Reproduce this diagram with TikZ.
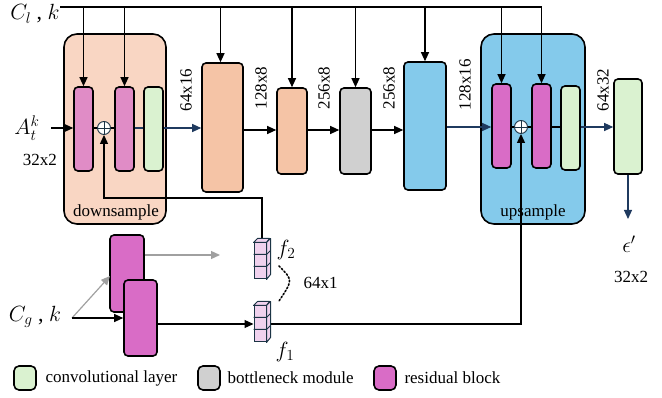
\documentclass[tikz,border=0pt]{standalone}
\usepackage{fix-cm}
\usepackage{fontspec}
\setmainfont{Liberation Serif}
\usetikzlibrary{arrows.meta}
\definecolor{peachbg}{HTML}{F9D6C3}
\definecolor{peach}{HTML}{F5C4A6}
\definecolor{resd}{HTML}{E08CC6}
\definecolor{resu}{HTML}{D96CC6}
\definecolor{convg}{HTML}{DAF2D0}
\definecolor{bneck}{HTML}{D0D0D0}
\definecolor{skyb}{HTML}{84CAEB}
\definecolor{navy}{HTML}{1F3A5F}
\definecolor{cubef}{HTML}{F0D2EE}
\definecolor{cubel}{HTML}{1C3445}
\definecolor{grayarr}{HTML}{A0A0A0}
\begin{document}
\begin{tikzpicture}[x=1pt,y=-1pt,
  font=\fontsize{17}{20}\selectfont,
  mathlab/.style={font=\fontsize{22}{24}\selectfont},
  blk/.style={draw=black,line width=1.6pt,rounded corners=4pt,inner sep=0pt},
  bigbox/.style={draw=black,line width=1.6pt,rounded corners=13pt,inner sep=0pt},
  arrK/.style={line width=1.2pt,-{Triangle[length=9pt,width=8pt]}},
  arrN/.style={line width=1.2pt,draw=navy,-{Triangle[length=9pt,width=8pt]},navy},
  lnK/.style={line width=1.2pt},
  lnN/.style={line width=1.2pt,draw=navy},
  arrG/.style={line width=1.2pt,draw=grayarr,-{Triangle[length=9pt,width=8pt]},grayarr},
  sumc/.style={circle,draw=cubel,fill=white,line width=0.9pt,minimum size=13pt,inner sep=0pt},
  vec/.style={draw=cubel,fill=cubef,line width=1pt,minimum width=12pt,minimum height=36pt,inner sep=0pt},
  dim/.style={rotate=90}
]
\useasboundingbox (0,0) rectangle (662,398);

% big boxes
\node[bigbox,fill=peachbg,minimum width=102pt,minimum height=190pt] (dbox) at (115,129) {};
\node[bigbox,fill=skyb,minimum width=104pt,minimum height=190pt] (ubox) at (533,129) {};
\node[anchor=base] (dlab) at (116,217) {downsample};
\node[anchor=base] (ulab) at (533,217) {upsample};

% downsample interior
\node[blk,fill=resd,minimum width=19pt,minimum height=84pt] (dr1) at (83.5,129) {};
\node[blk,fill=resd,minimum width=19pt,minimum height=84pt] (dr2) at (124.5,129) {};
\node[blk,fill=convg,minimum width=19pt,minimum height=84pt] (dg) at (153.5,129) {};
\node[sumc] (ds) at (104,128) {};
\draw[cubel,line width=0.9pt] (ds.north)--(ds.south) (ds.west)--(ds.east);

% middle blocks
\node[blk,fill=peach,minimum width=41pt,minimum height=129pt] (O1) at (222.5,127.5) {};
\node[blk,fill=peach,minimum width=30pt,minimum height=86pt] (O2) at (292,131) {};
\node[blk,fill=bneck,minimum width=31pt,minimum height=86pt] (G) at (355.5,131) {};
\node[blk,fill=skyb,minimum width=42pt,minimum height=128pt] (B) at (425,126) {};

% upsample interior
\node[blk,fill=resu,minimum width=19pt,minimum height=84pt] (ur1) at (501.5,126) {};
\node[blk,fill=resu,minimum width=19pt,minimum height=84pt] (ur2) at (541.5,126) {};
\node[blk,fill=convg,minimum width=19pt,minimum height=84pt] (ug) at (570.5,128) {};
\node[sumc] (us) at (521,127) {};
\draw[cubel,line width=0.9pt] (us.north)--(us.south) (us.west)--(us.east);

% output conv
\node[blk,fill=convg,minimum width=28pt,minimum height=95pt] (G2) at (628,126.5) {};
\coordinate (eout) at (628,219);
\node[mathlab] (eps) at (629,244) {$\epsilon'$};
\node (o32) at (631,277) {32x2};

% inputs
\node[mathlab] (Cl) at (35,14) {$C_l$ , $k$};
\node[mathlab,inner sep=0pt] (At) at (27,128) {$A_t^k$};
\node[inner sep=0pt] (a32) at (40,160) {32x2};
\coordinate (ain) at (51,128);

% dimension labels
\node[dim] (d1) at (186,90) {64x16};
\node[dim] (d2) at (261,88) {128x8};
\node[dim] (d3) at (324,88) {256x8};
\node[dim] (d4) at (389,88) {256x8};
\node[dim] (d5) at (465,85) {128x16};
\node[dim] (d6) at (603,90) {64x32};

% top conditioning line
\coordinate (t0) at (60,7);
\coordinate (t1) at (542,7);
\draw[lnK] (t0) -- (t1);
\foreach \n in {dr1,dr2,O2,G,ur1,ur2}{
  \draw[arrK] (\n.north |- t0) -- (\n.north);
}
\draw[arrK] ([xshift=-2pt]O1.north |- t0) -- ([xshift=-2pt]O1.north);
\draw[arrK] (B.north |- t0) -- (B.north);

% main path
\coordinate (m1) at (0,128);
\coordinate (m2) at (0,130);
\coordinate (m3) at (0,127);
\draw[arrK] (ain) -- (dr1.west |- m1);
\draw[lnK] (dr1.east |- m1) -- (ds.west);
\draw[lnK] (ds.east) -- (dr2.west |- m1);
\draw[lnN] (dr2.east |- m1) -- (dg.west |- m1);
\draw[arrN] (dg.east |- m1) -- (O1.west |- m1);
\draw[arrK] (O1.east |- m2) -- (O2.west |- m2);
\draw[arrK] (O2.east |- m2) -- (G.west |- m2);
\draw[arrK] (G.east |- m2) -- (B.west |- m2);
\draw[arrN] (B.east |- m3) -- (ur1.west |- m3);
\draw[lnK] (ur1.east |- m3) -- (us.west);
\draw[lnK] (us.east) -- (ur2.west |- m3);
\draw[line width=1.8pt] (ur2.east |- m3) -- (ug.west |- m3);
\draw[arrN] (ug.east |- m3) -- (G2.west |- m3);
\draw[arrN] (G2.south) -- (eout);

% lower branch
\node[blk,fill=resu,minimum width=34pt,minimum height=77pt] (LB) at (127,273.5) {};
\node[blk,fill=resu,minimum width=33pt,minimum height=76pt] (LF) at (140.5,318) {};
\node[mathlab] (Cg) at (35,317) {$C_g$ , $k$};
\coordinate (cin) at (72,318);
\coordinate (gtip) at (110,276);
\coordinate (gend) at (220,255);
\draw[arrG] (cin) -- (gtip);
\draw[arrG] (LB.east |- gend) -- (gend);
\draw[arrK] (cin) -- (LF.west |- cin);

% feature vectors
\node[vec] (f2) at (260,261) {};
\node[vec] (f1) at (260,324) {};
\node[mathlab] (f2l) at (286,250) {$f_2$};
\node[mathlab] (f1l) at (285,352) {$f_1$};
\node[anchor=west] (n64) at (300,283) {64x1};

\draw[arrK] (LF.east |- f1.west) -- (f1.west);
\coordinate (fk) at (263,198);
\coordinate (f2t) at ([xshift=2pt,yshift=4pt]f2.north);
\draw[arrK] (f2t) -- (f2t |- fk) -- (ds |- fk) -- (ds.south);
\draw[arrK] (f1.east) -- (us |- f1.east) -- (us.south);

% cube details
\foreach \v in {f1,f2}{
  \draw[cubel,fill=cubef,line width=1pt,line join=round]
    (\v.north west) -- ++(4,-4) -- ++(12,0) -- (\v.north east) -- cycle;
  \draw[cubel,fill=cubef,line width=1pt,line join=round]
    (\v.north east) -- ++(4,-4) -- ++(0,36) -- (\v.south east) -- cycle;
  \draw[cubel,line width=1pt]
    ([yshift=-12pt]\v.north west) -- ([yshift=-12pt]\v.north east) -- ++(4,-4)
    ([yshift=-24pt]\v.north west) -- ([yshift=-24pt]\v.north east) -- ++(4,-4);
}
\draw[line width=1.6pt,dotted,line cap=round] (279,266) .. controls (293,280) .. (279,301);

% legend
\node[blk,fill=convg,minimum width=22pt,minimum height=24pt,rounded corners=5pt] (lg1) at (25,378) {};
\node[anchor=west] (lt1) at (42,378) {convolutional layer};
\node[blk,fill=bneck,minimum width=22pt,minimum height=24pt,rounded corners=5pt] (lg2) at (209,378) {};
\node[anchor=west] (lt2) at (224,378) {bottleneck module};
\node[blk,fill=resu,minimum width=22pt,minimum height=24pt,rounded corners=5pt] (lg3) at (385,378) {};
\node[anchor=west] (lt3) at (401,378) {residual block};
\end{tikzpicture}
\end{document}
